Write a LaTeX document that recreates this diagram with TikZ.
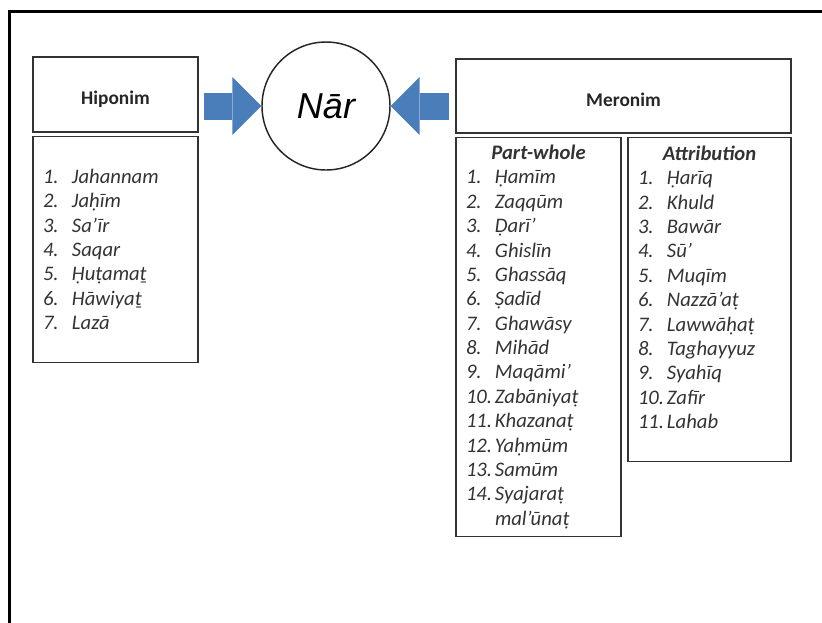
\documentclass[tikz,border=0pt]{standalone}
\usepackage{fontspec}
\setmainfont{Carlito}
\newfontfamily\narfont{Liberation Sans}
\usetikzlibrary{positioning,arrows.meta}

\definecolor{arrowblue}{HTML}{4A7EBB}
\newcommand{\itm}[2]{\makebox[21.75pt][l]{#1}#2}
\newcommand{\ttl}[1]{\makebox[\hsize]{\bfseries #1}}

\begin{document}
\begin{tikzpicture}[
    x=0.75pt, y=-0.75pt,
    head/.style={rectangle, draw=black!80, line width=1.3pt, inner sep=0pt, text height=18pt, text depth=3pt, text=black!85, font=\bfseries\fontsize{14.5}{17}\selectfont},
    list/.style={rectangle, draw=black!80, line width=1.3pt, align=left, inner xsep=7.5pt, inner ysep=2pt, text=black!80, font=\itshape\fontsize{15.5}{18.3}\selectfont},
    bigarrow/.style={draw=arrowblue, line width=20.25pt, -{Triangle[length=21.75pt, width=43.5pt, line width=0pt, color=arrowblue]}},
    frame/.style={line width=2.25pt, line cap=rect}
]
\useasboundingbox (0,0) rectangle (822,622);

% Frame
\draw[frame] (9,640) -- (9,11) -- (840,11);

% Nodes
\node[circle, draw=black!85, line width=1.1pt, minimum size=96pt, inner sep=0pt, font=\narfont\itshape\fontsize{27}{30}\selectfont] (nar) at (326,106) {Nār};

\node[head, minimum width=123.75pt, minimum height=56.25pt] (hip) at (115.5,94.5) {Hiponim};
\node[list, below right=2pt and 0pt of hip.south west, text width=108.75pt, minimum height=169.5pt] (hiplist) {%
\itm{1.}{Jahannam}\\
\itm{2.}{Jaḥīm}\\
\itm{3.}{Sa’īr}\\
\itm{4.}{Saqar}\\
\itm{5.}{Ḥuṭamaṯ}\\
\itm{6.}{Hāwiyaṯ}\\
\itm{7.}{Lazā}};

\node[head, minimum width=251.25pt, minimum height=55.5pt] (mero) at (623.5,96) {Meronim};
\node[list, below right=2pt and 0pt of mero.south west, text width=108.75pt, minimum height=299.25pt] (part) {%
\ttl{Part-whole}\\
\itm{1.}{Ḥamīm}\\
\itm{2.}{Zaqqūm}\\
\itm{3.}{Ḍarī’}\\
\itm{4.}{Ghislīn}\\
\itm{5.}{Ghassāq}\\
\itm{6.}{Ṣadīd}\\
\itm{7.}{Ghawāsy}\\
\itm{8.}{Mihād}\\
\itm{9.}{Maqāmi’}\\
\itm{10.}{Zabāniyaṭ}\\
\itm{11.}{Khazanaṭ}\\
\itm{12.}{Yaḥmūm}\\
\itm{13.}{Samūm}\\
\itm{14.}{Syajaraṭ}\\
\itm{}{mal’ūnaṭ}};
\node[list, below left=2pt and 0pt of mero.south east, text width=107.25pt, minimum height=243pt] (attr) {%
\ttl{Attribution}\\
\itm{1.}{Ḥarīq}\\
\itm{2.}{Khuld}\\
\itm{3.}{Bawār}\\
\itm{4.}{Sū’}\\
\itm{5.}{Muqīm}\\
\itm{6.}{Nazzā’aṭ}\\
\itm{7.}{Lawwāḥaṭ}\\
\itm{8.}{Taghayyuz}\\
\itm{9.}{Syahīq}\\
\itm{10.}{Zafīr}\\
\itm{11.}{Lahab}\\
\mbox{}};

% Arrows
\draw[bigarrow] ([xshift=-42.75pt]nar.west) -- (nar.west);
\draw[bigarrow] ([xshift=43.5pt]nar.east) -- (nar.east);

\end{tikzpicture}
\end{document}
